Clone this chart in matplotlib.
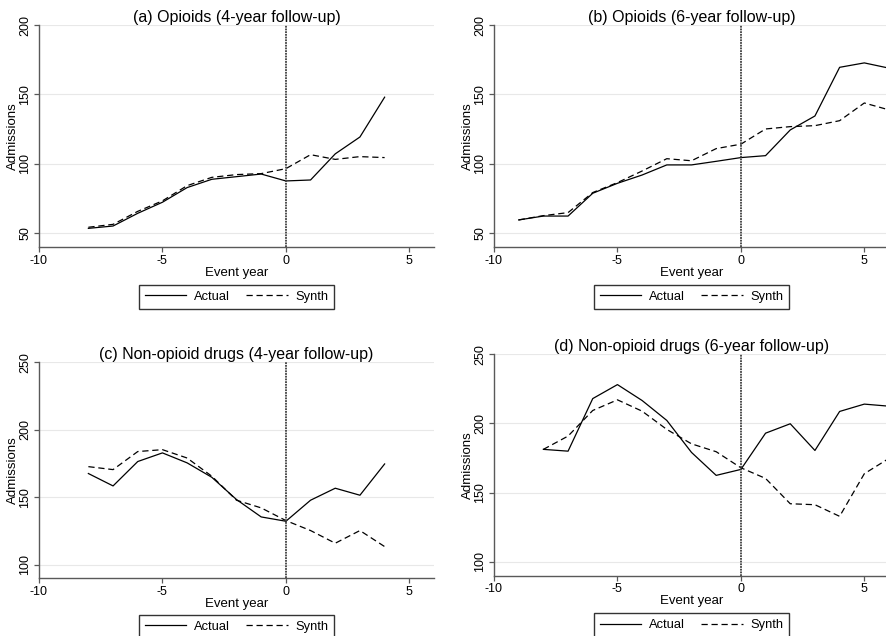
import matplotlib
matplotlib.use("Agg")
import matplotlib.pyplot as plt

plt.rcParams['font.family'] = ['Liberation Sans', 'DejaVu Sans']
plt.rcParams['axes.unicode_minus'] = False

# event years
years_4 = [-8, -7, -6, -5, -4, -3, -2, -1, 0, 1, 2, 3, 4]
years_6b = [-9, -8, -7, -6, -5, -4, -3, -2, -1, 0, 1, 2, 3, 4, 5, 6]
years_6d = [-8, -7, -6, -5, -4, -3, -2, -1, 0, 1, 2, 3, 4, 5, 6]

# (a) Opioids, 4-year follow-up
opi4_actual = [53.1, 54.8, 64, 72, 82.6, 88.6, 90.5, 92.4, 87.4, 88.1, 107, 119.2, 148]
opi4_synth = [53.9, 56, 65.4, 73, 84, 90, 92, 92.7, 96.3, 106.4, 103, 105, 104.3]

# (b) Opioids, 6-year follow-up
opi6_actual = [59.2, 62, 62, 78.5, 85.7, 91.7, 99, 99, 101.6, 104.3, 105.7, 124.3, 134.4, 169.6, 172.8, 169]
opi6_synth = [59.2, 62.3, 64.5, 79, 86.2, 94.6, 103.5, 102, 110.8, 114, 125, 126.7, 127.4, 131, 143.8, 138.8]

# (c) Non-opioid drugs, 4-year follow-up
non4_actual = [167.5, 158.3, 176.4, 182.8, 175.4, 164.7, 148.2, 135.3, 132.1, 147.7, 156.6, 151.4, 174.6]
non4_synth = [172.6, 170.4, 183.8, 185.2, 179, 165.5, 147.7, 142, 132.6, 125.2, 115.8, 125.2, 113.3]

# (d) Non-opioid drugs, 6-year follow-up
non6_actual = [181.3, 180, 218, 228.1, 216.6, 202.2, 179.1, 162.5, 166.8, 193, 199.8, 180.5, 208.7, 214, 212.5]
non6_synth = [181.3, 190.9, 209.4, 217.1, 208.9, 195.7, 185.3, 179.6, 168, 160.3, 142, 141.3, 132.9, 163.7, 174.8]

W, H = 887, 636
fig = plt.figure(figsize=(W / 100, H / 100), dpi=100)


def px_axes(left, top, right, bottom):
    return fig.add_axes([left / W, 1 - bottom / H, (right - left) / W, (bottom - top) / H])


panels = [
    ("(a) Opioids (4-year follow-up)", years_4, opi4_actual, opi4_synth,
     (39, 25.3, 434, 247.3), (39.4, 200), [50, 100, 150, 200]),
    ("(b) Opioids (6-year follow-up)", years_6b, opi6_actual, opi6_synth,
     (494, 25.3, 889, 247.3), (39.4, 200), [50, 100, 150, 200]),
    ("(c) Non-opioid drugs (4-year follow-up)", years_4, non4_actual, non4_synth,
     (39, 362.3, 434, 578), (90, 250), [100, 150, 200, 250]),
    ("(d) Non-opioid drugs (6-year follow-up)", years_6d, non6_actual, non6_synth,
     (494, 354.3, 889, 575.7), (90, 250), [100, 150, 200, 250]),
]

for title, x, actual, synth, box, ylim, yticks in panels:
    ax = px_axes(*box)
    ax.plot(x, actual, color="black", lw=0.9, label="Actual")
    ax.plot(x, synth, color="black", lw=0.9, ls=(0, (5, 3)), label="Synth")
    ax.axvline(0, color="0.25", lw=1.3, ls=(0, (1, 0.5)))
    ax.set_xlim(-10, 6)
    ax.set_ylim(*ylim)
    ax.set_xticks([-10, -5, 0, 5])
    ax.set_yticks(yticks)
    ax.spines["top"].set_visible(False)
    ax.spines["right"].set_visible(False)
    ax.spines["left"].set_bounds(ylim[0], yticks[-1])
    for side in ("left", "bottom"):
        ax.spines[side].set_linewidth(1.0)
        ax.spines[side].set_color("0.35")
    ax.grid(axis="y", color="#e8e8e8", lw=0.8)
    ax.set_axisbelow(True)
    ax.tick_params(labelsize=9, length=3.5, width=0.9, color="0.35", pad=2)
    for lab in ax.get_yticklabels():
        lab.set_rotation(90)
        lab.set_va("center")
    ax.set_title(title, fontsize=11.5, pad=2)
    ax.set_xlabel("Event year", fontsize=9.5, labelpad=0)
    ax.set_ylabel("Admissions", fontsize=9.5, labelpad=0)
    ax.legend(loc="upper center", bbox_to_anchor=(0.5, -0.17), ncol=2, fontsize=9.3,
              frameon=True, fancybox=False, edgecolor="black", handlelength=3.2,
              columnspacing=1.3, borderpad=0.45, handletextpad=0.6, borderaxespad=0)

plt.savefig("out.png", dpi=100)
